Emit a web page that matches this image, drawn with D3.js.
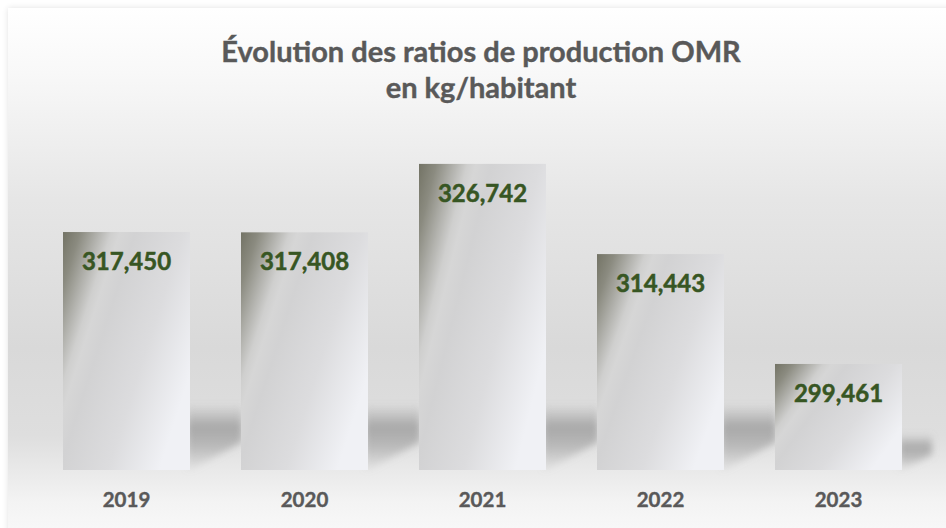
<!DOCTYPE html>
<html><head><meta charset="utf-8">
<script src="https://cdn.jsdelivr.net/npm/d3@7"></script>
<style>html,body{margin:0;padding:0;background:#fff;}svg{display:block;}</style>
</head><body>
<script>
const years = ["2019","2020","2021","2022","2023"];
const values = [317.450, 317.408, 326.742, 314.443, 299.461];
const valueLabels = ["317,450","317,408","326,742","314,443","299,461"];
const titleLines = ["Évolution des ratios de production OMR","en kg/habitant"];

const W = 946, H = 528;
const svg = d3.select("body").append("svg").attr("width", W).attr("height", H);
const defs = svg.append("defs");

// background gradient
const bg = defs.append("linearGradient").attr("id","bg").attr("x1",0).attr("y1",0).attr("x2",0).attr("y2",1);
[[0,"#ffffff"],[0.12,"#f8f8f8"],[0.35,"#e6e6e6"],[0.62,"#d9d9d9"],[0.78,"#dedede"],[0.9,"#f3f3f3"],[1,"#fcfcfc"]]
  .forEach(([o,c])=>bg.append("stop").attr("offset",o).attr("stop-color",c));
const fs = defs.append("filter").attr("id","frameShadow").attr("x","-5%").attr("y","-5%").attr("width","110%").attr("height","110%");
fs.append("feGaussianBlur").attr("in","SourceAlpha").attr("stdDeviation",3);
fs.append("feComponentTransfer").append("feFuncA").attr("type","linear").attr("slope",0.12);
const fm = fs.append("feMerge"); fm.append("feMergeNode"); fm.append("feMergeNode").attr("in","SourceGraphic");

svg.append("rect").attr("x",8).attr("y",8).attr("width",W+20).attr("height",H+20)
  .attr("fill","url(#bg)").attr("filter","url(#frameShadow)");

// bar gradient (bounding-box based, diagonal)
const bgrad = defs.append("linearGradient").attr("id","barGrad")
  .attr("x1",0).attr("y1",0).attr("x2",1).attr("y2",0.6);
[[0,"#737365"],[0.1,"#8b8b80"],[0.2,"#b1b1ac"],[0.28,"#cfcfce"],[0.33,"#d6d6d6"],[0.42,"#d2d2d3"],[0.7,"#dcdcde"],[1.0,"#f0f1f5"]]
  .forEach(([o,c])=>bgrad.append("stop").attr("offset",o).attr("stop-color",c));

// shadow
const sh = defs.append("linearGradient").attr("id","shGrad").attr("x1",0).attr("y1",0).attr("x2",0).attr("y2",1);
[[0,"#858585",0.0],[0.35,"#858585",0.6],[0.65,"#8a8a8a",0.45],[1,"#a0a0a0",0.1]]
  .forEach(([o,c,a])=>sh.append("stop").attr("offset",o).attr("stop-color",c).attr("stop-opacity",a));
defs.append("filter").attr("id","blur").attr("x","-30%").attr("y","-30%").attr("width","160%").attr("height","160%")
  .append("feGaussianBlur").attr("stdDeviation",3.5);

const x = d3.scaleBand().domain(years).range([37.5, 927.5]).paddingInner(0.2865).paddingOuter(0.1433);
const y = d3.scaleLinear().domain([285, 330]).range([470, 140]);

const data = years.map((yr,i)=>({yr, v: values[i], lab: valueLabels[i]}));

// shadows
svg.append("g").selectAll("path").data(data).join("path")
  .attr("d", d => {
    const xr = x(d.yr) + x.bandwidth();
    const yb = y.range()[0];
    const h = yb - y(d.v);
    const sH = Math.min(66, 0.34*h);
    const ts = yb - sH;
    const len = d.yr === years[years.length-1] ? 30 : 52;
    return `M${xr-3},${ts} L${xr+len},${ts} L${xr+len},${yb-sH*0.42} L${xr},${yb} L${xr-3},${yb} Z`;
  })
  .attr("fill","url(#shGrad)").attr("filter","url(#blur)");

// bars
svg.append("g").selectAll("rect").data(data).join("rect")
  .attr("x", d=>x(d.yr)).attr("y", d=>y(d.v))
  .attr("width", x.bandwidth()).attr("height", d=>y.range()[0]-y(d.v))
  .attr("fill","url(#barGrad)");

// value labels
svg.append("g").selectAll("text").data(data).join("text")
  .attr("x", d=>x(d.yr)+x.bandwidth()/2).attr("y", d=>y(d.v)+38)
  .attr("text-anchor","middle")
  .attr("font-family","Lato, 'Open Sans', sans-serif").attr("font-weight","bold")
  .attr("font-size",24).attr("fill","#375623")
  .attr("stroke","#375623").attr("stroke-width",0.5)
  .text(d=>d.lab);

// category axis labels
const xAxis = d3.axisBottom(x).tickSize(0).tickPadding(0);
const ax = svg.append("g").attr("transform","translate(0,492)").call(xAxis);
ax.select(".domain").remove();
ax.selectAll("text").attr("font-family","Lato, sans-serif").attr("font-weight","bold")
  .attr("font-size",20.5).attr("fill","#595959").attr("stroke","#595959").attr("stroke-width",0.4)
  .attr("dy","0.71em");

// title
const t = svg.append("text").attr("text-anchor","middle")
  .attr("font-family","Lato, sans-serif").attr("font-weight","bold")
  .attr("font-size",29).attr("fill","#595959").attr("stroke","#595959").attr("stroke-width",0.4);
titleLines.forEach((l,i)=>t.append("tspan").attr("x",481).attr("y",62+i*36).text(l));
</script>
</body></html>
